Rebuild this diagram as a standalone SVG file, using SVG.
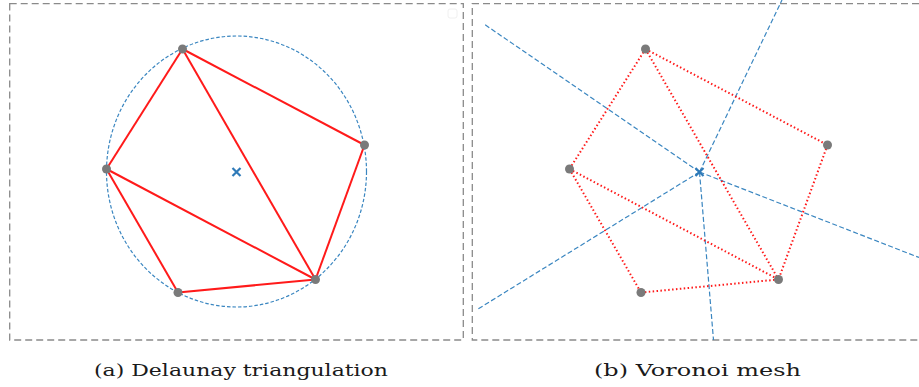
<svg xmlns="http://www.w3.org/2000/svg" width="919" height="387" viewBox="0 0 919 387">
<style>
.frame{fill:none;stroke:#8a8a8a;stroke-width:1.3;stroke-dasharray:7,4}
.circ{fill:none;stroke:#3a86c0;stroke-width:1.2;stroke-dasharray:3.5,2}
.vor{stroke:#3a86c0;stroke-width:1.2;stroke-dasharray:5,2.5;fill:none}
.tri{stroke:#ff1a1a;stroke-width:2;fill:none}
.dot{stroke:#ff1a1a;stroke-width:2;fill:none;stroke-dasharray:1.5,2.4}
.pt{fill:#7a7a7a}
.cx{stroke:#2f7ab8;stroke-width:2.2;fill:none}
.cap{font-family:"DejaVu Serif","Liberation Serif",serif;font-size:17px;fill:#1a1a1a}
</style>
<rect width="919" height="387" fill="#fff"/>
<g id="panel-a">
<rect class="frame" x="9.7" y="3.7" width="453.6" height="336.3"/>
<rect x="448" y="9" width="9" height="9" rx="2" fill="none" stroke="#f0f0f0" stroke-width="1"/>
<ellipse class="circ" cx="236.5" cy="171.5" rx="130" ry="135.5"/>
<g id="edges-a">
<line class="tri" x1="182.5" y1="49" x2="106.5" y2="169"/>
<line class="tri" x1="182.5" y1="49" x2="315.5" y2="279.5"/>
<line class="tri" x1="182.5" y1="49" x2="364.5" y2="145"/>
<line class="tri" x1="364.5" y1="145" x2="315.5" y2="279.5"/>
<line class="tri" x1="106.5" y1="169" x2="315.5" y2="279.5"/>
<line class="tri" x1="106.5" y1="169" x2="178" y2="292.5"/>
<line class="tri" x1="178" y1="292.5" x2="315.5" y2="279.5"/>
</g>
<g id="pts-a">
<circle class="pt" cx="182.5" cy="49" r="4.5"/>
<circle class="pt" cx="364.5" cy="145" r="4.5"/>
<circle class="pt" cx="106.5" cy="169" r="4.5"/>
<circle class="pt" cx="178" cy="292.5" r="4.5"/>
<circle class="pt" cx="315.5" cy="279.5" r="4.5"/>
</g>
<path class="cx" d="M232.5 168 L240.5 176 M240.5 168 L232.5 176"/>
<text class="cap" x="241" y="375.5" text-anchor="middle" textLength="294" lengthAdjust="spacingAndGlyphs">(a) Delaunay triangulation</text>
</g>
<g id="panel-b">
<path class="frame" d="M919 3.7 H472.3 V340 H919"/>
<g id="voronoi">
<line class="vor" x1="699.5" y1="172" x2="484" y2="24"/>
<line class="vor" x1="699.5" y1="172" x2="782" y2="0"/>
<line class="vor" x1="699.5" y1="172" x2="478" y2="309"/>
<line class="vor" x1="699.5" y1="172" x2="713.5" y2="340"/>
<line class="vor" x1="699.5" y1="172" x2="919" y2="257.5"/>
</g>
<g id="edges-b">
<line class="dot" x1="645.5" y1="49" x2="569.5" y2="169"/>
<line class="dot" x1="645.5" y1="49" x2="778.5" y2="279.5"/>
<line class="dot" x1="645.5" y1="49" x2="827.5" y2="145"/>
<line class="dot" x1="827.5" y1="145" x2="778.5" y2="279.5"/>
<line class="dot" x1="569.5" y1="169" x2="778.5" y2="279.5"/>
<line class="dot" x1="569.5" y1="169" x2="641" y2="292.5"/>
<line class="dot" x1="641" y1="292.5" x2="778.5" y2="279.5"/>
</g>
<g id="pts-b">
<circle class="pt" cx="645.5" cy="49" r="4.5"/>
<circle class="pt" cx="827.5" cy="145" r="4.5"/>
<circle class="pt" cx="569.5" cy="169" r="4.5"/>
<circle class="pt" cx="641" cy="292.5" r="4.5"/>
<circle class="pt" cx="778.5" cy="279.5" r="4.5"/>
</g>
<path class="cx" d="M695.5 168 L703.5 176 M703.5 168 L695.5 176"/>
<text class="cap" x="697.5" y="375.5" text-anchor="middle" textLength="207" lengthAdjust="spacingAndGlyphs">(b) Voronoi mesh</text>
</g>
</svg>
